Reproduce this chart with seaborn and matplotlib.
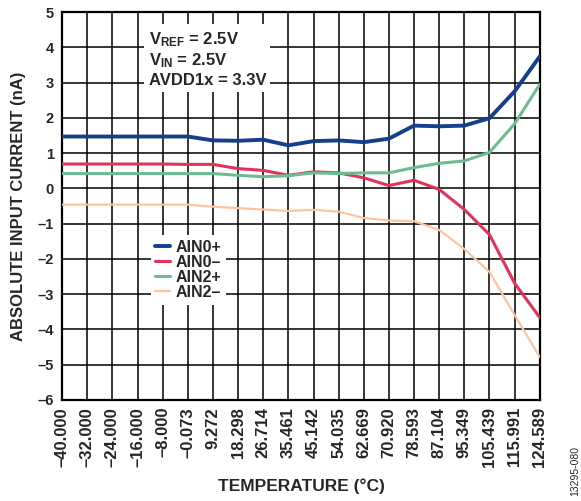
import numpy as np
import pandas as pd
import matplotlib
matplotlib.use('Agg')
import matplotlib.pyplot as plt
import seaborn as sns

# temperature points (categorical x axis)
temps = [-40.000, -32.000, -24.000, -16.000, -8.000, -0.073, 9.272, 18.298, 26.714,
         35.461, 45.142, 54.035, 62.669, 70.920, 78.593, 87.104, 95.349, 105.439,
         115.991, 124.589]

ain0_pos = [1.47, 1.47, 1.47, 1.47, 1.47, 1.47, 1.36, 1.35, 1.38, 1.22, 1.34, 1.36,
            1.31, 1.41, 1.78, 1.76, 1.78, 1.99, 2.75, 3.74]
ain0_neg = [0.69, 0.69, 0.69, 0.69, 0.69, 0.68, 0.68, 0.56, 0.51, 0.37, 0.47, 0.44,
            0.30, 0.08, 0.23, -0.03, -0.60, -1.31, -2.69, -3.66]
ain2_pos = [0.42, 0.42, 0.42, 0.42, 0.42, 0.42, 0.42, 0.37, 0.33, 0.36, 0.44, 0.42,
            0.44, 0.44, 0.59, 0.71, 0.78, 1.02, 1.83, 2.95]
ain2_neg = [-0.46, -0.46, -0.46, -0.46, -0.46, -0.46, -0.52, -0.56, -0.60, -0.64, -0.61,
            -0.66, -0.84, -0.91, -0.93, -1.18, -1.72, -2.37, -3.59, -4.78]

names = ['AIN0+', 'AIN0–', 'AIN2+', 'AIN2–']
colors = ['#143f8c', '#e2325a', '#6dbb93', '#ffc39e']
widths = [2.8, 2.2, 2.2, 1.6]

sns.set_style('white')
plt.rcParams['font.family'] = ['Liberation Sans', 'DejaVu Sans']
plt.rcParams['font.weight'] = 'bold'
plt.rcParams['mathtext.fontset'] = 'custom'
plt.rcParams['mathtext.rm'] = 'Liberation Sans:bold'
plt.rcParams['mathtext.it'] = 'Liberation Sans:bold'
plt.rcParams['mathtext.bf'] = 'Liberation Sans:bold'

idx = np.arange(len(temps))
df = pd.DataFrame({'idx': np.tile(idx, 4),
                   'val': ain0_pos + ain0_neg + ain2_pos + ain2_neg,
                   'series': np.repeat(names, len(temps))})

fig = plt.figure(figsize=(5.81, 5.01), dpi=100)
ax = fig.add_axes([0.107, 0.2016, 0.822, 0.7744])

for name, c, lw in zip(names, colors, widths):
    sns.lineplot(data=df[df.series == name], x='idx', y='val', color=c, lw=lw,
                 label=name, ax=ax, zorder=3)

ax.set_xlim(0, len(temps) - 1)
ax.set_ylim(-6, 5)
ax.set_xticks(idx)
ax.set_xticklabels([f'{t:.3f}'.replace('-', '–') for t in temps], rotation=90,
                   fontsize=12, fontweight='bold')
ax.set_yticks(range(-6, 6))
ax.set_yticklabels([str(v).replace('-', '–') for v in range(-6, 6)],
                   fontsize=10.5, fontweight='bold')
ax.tick_params(axis='x', length=0, pad=5)
ax.tick_params(axis='y', length=0, pad=6)
ax.grid(True, color='black', lw=1.1, zorder=1)
ax.set_axisbelow(True)
for s in ax.spines.values():
    s.set_color('black')
    s.set_linewidth(1.6)

ax.set_xlabel('TEMPERATURE (°C)', fontsize=12.5, fontweight='bold', labelpad=8)
ax.set_ylabel('ABSOLUTE INPUT CURRENT (nA)', fontsize=12, fontweight='bold', labelpad=8)

ax.text(0.181, 0.953, 'V$_{REF}$ = 2.5V\nV$_{IN}$ = 2.5V\nAVDD1x = 3.3V',
        transform=ax.transAxes, ha='left', va='top', fontsize=12, fontweight='bold',
        linespacing=1.2, zorder=5,
        bbox=dict(facecolor='white', edgecolor='none', pad=3))

leg = ax.legend(loc='upper left', bbox_to_anchor=(0.185, 0.425), frameon=True,
                fancybox=False, framealpha=1, edgecolor='none', fontsize=11.5,
                handlelength=0.9, handletextpad=0.35, labelspacing=0.0,
                borderpad=0.3, borderaxespad=0)
for t in leg.get_texts():
    t.set_fontweight('bold')
leg.set_zorder(6)

fig.text(0.99, 0.01, '13295-080', rotation=90, fontsize=7.5, fontweight='normal',
         ha='center', va='bottom')

fig.savefig('out.png', dpi=100)
